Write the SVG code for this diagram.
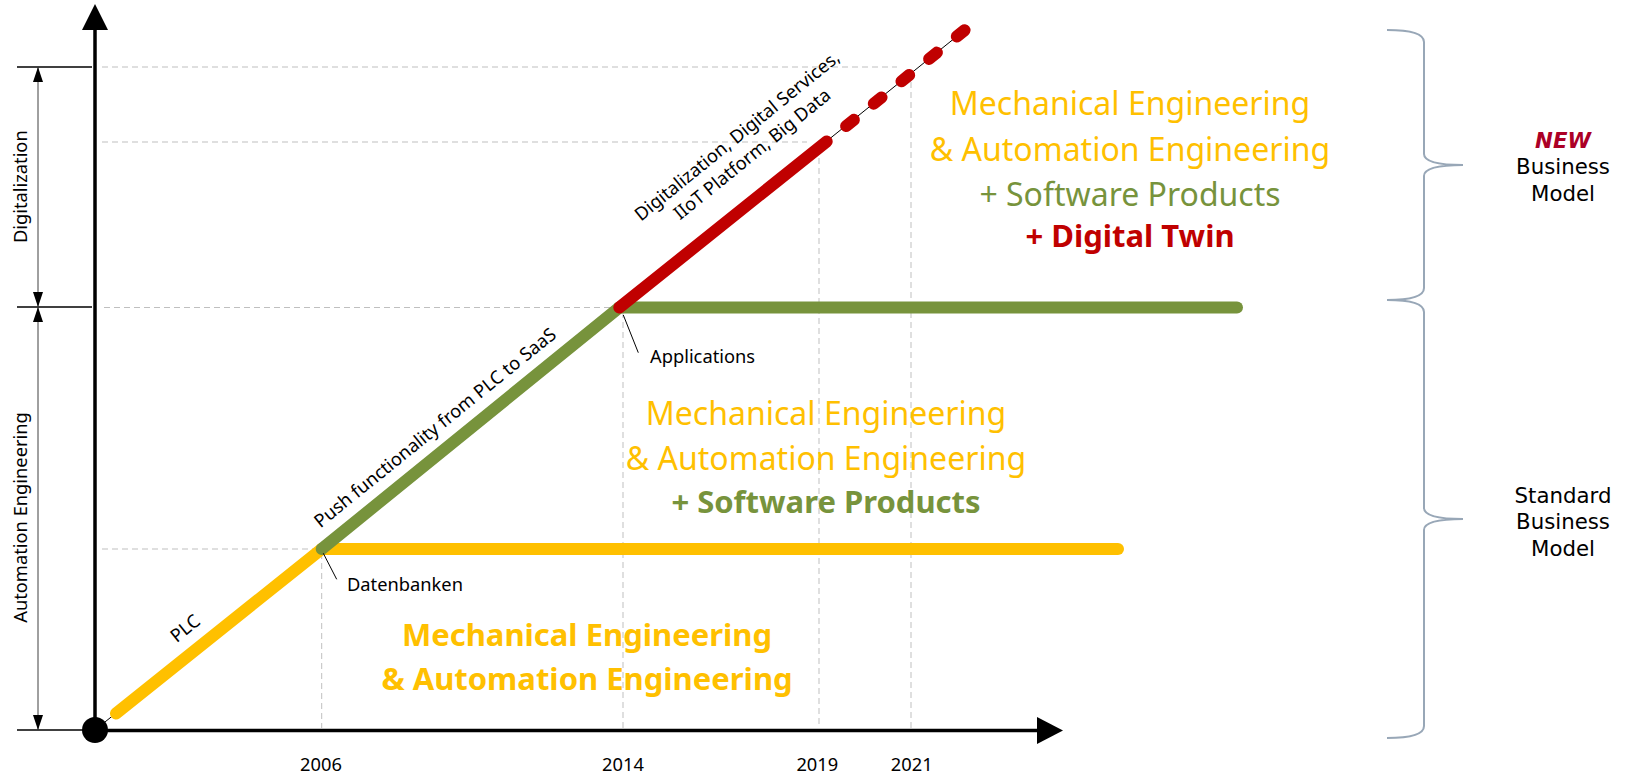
<svg xmlns="http://www.w3.org/2000/svg" width="1627" height="776" viewBox="0 0 1627 776">
<style>
.t{font-family:"Noto Sans","Open Sans","Liberation Sans",sans-serif;fill:#000}
.s{font-size:18.3px}
.big{font-size:32px}
.bigb{font-size:31px;font-weight:bold}
.v{font-family:"DejaVu Sans","Liberation Sans",sans-serif;font-size:21.3px;fill:#000}
.dash{stroke:#BFBFBF;stroke-width:1;stroke-dasharray:6 4;fill:none}
.thin{stroke:#000;stroke-width:1;fill:none}
.dim{stroke:#404040;stroke-width:1;fill:none}
.tick{stroke:#000;stroke-width:1.5;fill:none}
.band{fill:none;stroke-width:12;stroke-linecap:round}
.brace{fill:none;stroke:#98A7B7;stroke-width:2}
.y{fill:#FFC000}.g{fill:#77933C}.r{fill:#C00000}
</style>
<defs>
<marker id="dh" viewBox="0 0 15 10" refX="15" refY="5" markerWidth="15" markerHeight="10" markerUnits="userSpaceOnUse" orient="auto-start-reverse">
<path d="M0,0 L15,5 L0,10 Z" fill="#000"/>
</marker>
</defs>

<g id="grid">
<line class="dash" x1="102" y1="67" x2="897" y2="67"/>
<line class="dash" x1="102" y1="142" x2="807" y2="142"/>
<line class="dash" x1="104" y1="307.5" x2="615" y2="307.5"/>
<line class="dash" x1="102" y1="549" x2="318" y2="549"/>
<line class="dash" x1="321.7" y1="553" x2="321.7" y2="728"/>
<line class="dash" x1="623" y1="312" x2="623" y2="728"/>
<line class="dash" x1="819" y1="148" x2="819" y2="728"/>
<line class="dash" x1="911" y1="72" x2="911" y2="728"/>
</g>

<g id="dimensions">
<line class="tick" x1="17" y1="67" x2="92" y2="67"/>
<line class="tick" x1="17" y1="307" x2="92" y2="307"/>
<line class="tick" x1="17" y1="730" x2="84" y2="730"/>
<line class="dim" x1="38" y1="67" x2="38" y2="307" marker-start="url(#dh)" marker-end="url(#dh)"/>
<line class="dim" x1="38" y1="307" x2="38" y2="730" marker-start="url(#dh)" marker-end="url(#dh)"/>
<text class="t s" transform="translate(26.5,186.7) rotate(-90)" text-anchor="middle">Digitalization</text>
<text class="t s" transform="translate(26.5,517.5) rotate(-90)" text-anchor="middle">Automation Engineering</text>
</g>

<g id="axes">
<line x1="95" y1="730" x2="95" y2="28" stroke="#000" stroke-width="3.5"/>
<polygon points="95,4 108,30 82,30" fill="#000"/>
<line x1="95" y1="730.5" x2="1039" y2="730.5" stroke="#000" stroke-width="3.5"/>
<polygon points="1063,730.5 1037,717 1037,744" fill="#000"/>
<circle cx="95" cy="730" r="13" fill="#000"/>
<text class="t s" x="321" y="770.7" text-anchor="middle">2006</text>
<text class="t s" x="623" y="770.7" text-anchor="middle">2014</text>
<text class="t s" x="817.3" y="770.7" text-anchor="middle">2019</text>
<text class="t s" x="911.7" y="770.7" text-anchor="middle">2021</text>
</g>

<g id="connectors">
<line class="thin" x1="95" y1="730" x2="960.7" y2="33.3"/>
<line class="band" stroke="#FFC000" x1="116" y1="713.5" x2="321.7" y2="549"/>
<line class="band" stroke="#FFC000" x1="321.7" y1="549" x2="1118" y2="549"/>
<line class="band" stroke="#77933C" x1="619.3" y1="307.5" x2="1237" y2="307.5"/>
<line class="band" stroke="#77933C" x1="321.7" y1="549" x2="619.3" y2="307.5"/>
<line class="band" stroke="#C00000" x1="619.3" y1="307.5" x2="826.7" y2="141.5"/>
<path class="band" stroke="#C00000" stroke-dasharray="10 25.6" d="M846.1,126.1 L964.6,30.2"/>
<line class="thin" x1="623.3" y1="315" x2="638.3" y2="352.7"/>
<line class="thin" x1="323.3" y1="553.3" x2="336.7" y2="579.3"/>
</g>

<g id="line-labels">
<text class="t s" transform="translate(189,633.3) rotate(-39)" text-anchor="middle">PLC</text>
<text class="t s" transform="translate(439,432.5) rotate(-39)" text-anchor="middle">Push functionality from PLC to SaaS</text>
<text class="t s" transform="translate(741,140.7) rotate(-39)" text-anchor="middle">Digitalization, Digital Services,</text>
<text class="t s" transform="translate(756,159) rotate(-39)" text-anchor="middle">IIoT Platform, Big Data</text>
<text class="t s" x="347" y="591">Datenbanken</text>
<text class="t s" x="650" y="363.3">Applications</text>
</g>

<g id="block-mech" text-anchor="middle">
<text class="t bigb y" x="587" y="646">Mechanical Engineering</text>
<text class="t bigb y" x="587" y="690">&amp; Automation Engineering</text>
</g>

<g id="block-software" text-anchor="middle">
<text class="t big y" x="826" y="425">Mechanical Engineering</text>
<text class="t big y" x="826" y="470">&amp; Automation Engineering</text>
<text class="t bigb g" x="826" y="513.3">+ Software Products</text>
</g>

<g id="block-digital" text-anchor="middle">
<text class="t big y" x="1130" y="115">Mechanical Engineering</text>
<text class="t big y" x="1130" y="160.7">&amp; Automation Engineering</text>
<text class="t big g" x="1130" y="206">+ Software Products</text>
<text class="t bigb r" x="1130" y="246.7">+ Digital Twin</text>
</g>

<g id="brace-new">
<path class="brace" d="M1387,30 Q1424,30 1424,42 L1424,154 Q1424,165 1463,165 Q1424,165 1424,176 L1424,288 Q1424,300 1387,300"/>
<text class="v" x="1563" y="147.7" text-anchor="middle" style="font-weight:bold;font-style:italic;fill:#AC0026">NEW</text>
<text class="v" x="1563" y="174" text-anchor="middle">Business</text>
<text class="v" x="1563" y="201" text-anchor="middle">Model</text>
</g>

<g id="brace-standard">
<path class="brace" d="M1387,300 Q1424,300 1424,312 L1424,508 Q1424,519 1463,519 Q1424,519 1424,530 L1424,726 Q1424,738 1387,738"/>
<text class="v" x="1563" y="503.3" text-anchor="middle">Standard</text>
<text class="v" x="1563" y="529.3" text-anchor="middle">Business</text>
<text class="v" x="1563" y="555.7" text-anchor="middle">Model</text>
</g>
</svg>
